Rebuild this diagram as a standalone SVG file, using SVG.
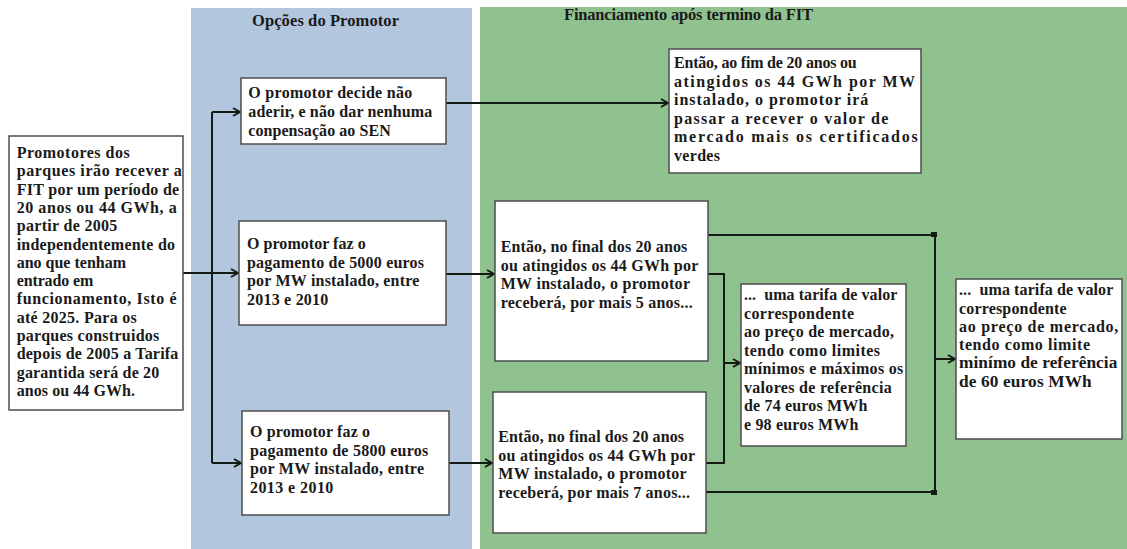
<svg xmlns="http://www.w3.org/2000/svg" width="1127" height="549" viewBox="0 0 1127 549">
<style>
.t{font-family:"Liberation Serif","Times New Roman",serif;font-weight:bold;font-size:16px;fill:#1a1a1a;white-space:pre}
.h{font-family:"Liberation Serif","Times New Roman",serif;font-weight:bold;font-size:16.5px;fill:#1a1a1a}
.big{font-size:17.3px}
.box{fill:#ffffff;stroke:#4d4d4d;stroke-width:1.5}
.ln{fill:none;stroke:#141a14;stroke-width:2}
</style>
<defs>
<marker id="ar" viewBox="0 0 10 10" refX="9" refY="5" markerWidth="10" markerHeight="10" markerUnits="userSpaceOnUse" orient="auto">
<path d="M2,1 L9,5 L2,9" fill="none" stroke="#141a14" stroke-width="2"/>
</marker>
</defs>
<rect x="0" y="0" width="1127" height="549" fill="#ffffff"/>
<g id="panel-promotor">
<rect x="191" y="8" width="281" height="541" fill="#b2c6dd"/>
<text class="h" x="252" y="26" textLength="147">Opções do Promotor</text>
</g>
<g id="panel-financiamento">
<rect x="480" y="7" width="647" height="542" fill="#8fc28e"/>
<text class="h" x="564" y="20" textLength="249">Financiamento após termino da FIT</text>
</g>
<g id="connectors">
<path class="ln" d="M183,273 H212"/>
<path class="ln" d="M212,112 V463"/>
<path class="ln" d="M212,112 H240" marker-end="url(#ar)"/>
<path class="ln" d="M212,273 H238" marker-end="url(#ar)"/>
<path class="ln" d="M212,463 H241" marker-end="url(#ar)"/>
<path class="ln" d="M446,103 H668" marker-end="url(#ar)"/>
<path class="ln" d="M446,274 H494" marker-end="url(#ar)"/>
<path class="ln" d="M449,463 H492" marker-end="url(#ar)"/>
<path class="ln" d="M708,274 H724 V463 H706"/>
<path class="ln" d="M724,363 H740" marker-end="url(#ar)"/>
<path class="ln" d="M708,235 H935 V492 H706"/>
<path class="ln" d="M935,359 H955" marker-end="url(#ar)"/>
<rect x="931" y="232" width="6" height="5" fill="#141a14"/>
<rect x="931" y="490" width="6" height="5" fill="#141a14"/>
</g>
<g id="node-inicio">
<rect class="box" x="9" y="136" width="174" height="274"/>
<text class="t" x="16.7" y="158" textLength="113">Promotores dos</text>
<text class="t" x="16.7" y="176.3" textLength="165">parques irão recever a</text>
<text class="t" x="16.7" y="194.6" textLength="162.5">FIT por um período de</text>
<text class="t" x="16.7" y="212.9" textLength="160">20 anos ou 44 GWh, a</text>
<text class="t" x="16.7" y="231.2" textLength="100.6">partir de 2005</text>
<text class="t" x="16.7" y="249.5" textLength="158.3">independentemente do</text>
<text class="t" x="16.7" y="267.8" textLength="109.3">ano que tenham</text>
<text class="t" x="16.7" y="286.1" textLength="76.6">entrado em</text>
<text class="t" x="16.7" y="304.4" textLength="160">funcionamento, Isto é</text>
<text class="t" x="16.7" y="322.7" textLength="120">até 2025. Para os</text>
<text class="t" x="16.7" y="341" textLength="142.6">parques construidos</text>
<text class="t" x="16.7" y="359.3" textLength="161.6">depois de 2005 a Tarifa</text>
<text class="t" x="16.7" y="377.6" textLength="142.6">garantida será de 20</text>
<text class="t" x="16.7" y="396" textLength="118.3">anos ou 44 GWh.</text>
</g>
<g id="node-nao-aderir">
<rect class="box" x="241" y="78" width="205" height="66"/>
<text class="t" x="248.3" y="98" textLength="164">O promotor decide não</text>
<text class="t" x="248.3" y="117" textLength="184">aderir, e não dar nenhuma</text>
<text class="t" x="248.3" y="136" textLength="142.4">conpensação ao SEN</text>
</g>
<g id="node-5000">
<rect class="box" x="239" y="221" width="207" height="104"/>
<text class="t" x="247" y="249" textLength="118.7">O promotor faz o</text>
<text class="t" x="247" y="267.5" textLength="177">pagamento de 5000 euros</text>
<text class="t" x="247" y="286" textLength="172.3">por MW instalado, entre</text>
<text class="t" x="247" y="304.5" textLength="81.3">2013 e 2010</text>
</g>
<g id="node-5800">
<rect class="box" x="242" y="411" width="207" height="104"/>
<text class="t" x="250" y="437" textLength="120">O promotor faz o</text>
<text class="t" x="250" y="455.5" textLength="178.3">pagamento de 5800 euros</text>
<text class="t" x="250" y="474" textLength="174">por MW instalado, entre</text>
<text class="t" x="250" y="492.5" textLength="83.3">2013 e 2010</text>
</g>
<g id="node-mercado-verdes">
<rect class="box" x="669" y="49" width="252" height="124"/>
<text class="t" x="674" y="68" textLength="182.7">Então, ao fim de 20 anos ou</text>
<text class="t" x="674" y="86.5" textLength="241">atingidos os 44 GWh por MW</text>
<text class="t" x="674" y="105" textLength="194.3">instalado, o promotor irá</text>
<text class="t" x="674" y="123.5" textLength="214.3">passar a recever o valor de</text>
<text class="t" x="674" y="142" textLength="243.7">mercado mais os certificados</text>
<text class="t" x="674" y="160.5" textLength="46">verdes</text>
</g>
<g id="node-5anos">
<rect class="box" x="495" y="201" width="213" height="160"/>
<text class="t" x="500.7" y="252" textLength="186.6">Então, no final dos 20 anos</text>
<text class="t" x="500.7" y="270.5" textLength="197.6">ou atingidos os 44 GWh por</text>
<text class="t" x="500.7" y="289" textLength="189.3">MW instalado, o promotor</text>
<text class="t" x="500.7" y="307.5" textLength="192">receberá, por mais 5 anos...</text>
</g>
<g id="node-7anos">
<rect class="box" x="493" y="392" width="213" height="141"/>
<text class="t" x="498.3" y="442" textLength="185.7">Então, no final dos 20 anos</text>
<text class="t" x="498.3" y="460.5" textLength="196.7">ou atingidos os 44 GWh por</text>
<text class="t" x="498.3" y="479" textLength="188.4">MW instalado, o promotor</text>
<text class="t" x="498.3" y="497.5" textLength="191.7">receberá, por mais 7 anos...</text>
</g>
<g id="node-tarifa-74-98">
<rect class="box" x="741" y="284" width="165" height="162"/>
<text class="t" x="744" y="300" textLength="153.3">...  uma tarifa de valor</text>
<text class="t" x="744" y="318.5" textLength="110">correspondente</text>
<text class="t" x="744" y="337" textLength="150">ao preço de mercado,</text>
<text class="t" x="744" y="355.5" textLength="136">tendo como limites</text>
<text class="t" x="744" y="374" textLength="159.3">mínimos e máximos os</text>
<text class="t" x="744" y="392.5" textLength="147.7">valores de referência</text>
<text class="t" x="744" y="411" textLength="123.3">de 74 euros MWh</text>
<text class="t" x="744" y="429.5" textLength="114.3">e 98 euros MWh</text>
</g>
<g id="node-tarifa-60">
<rect class="box" x="956" y="279" width="166" height="160"/>
<text class="t" x="959" y="295" textLength="154.3">...  uma tarifa de valor</text>
<text class="t" x="959" y="313.5" textLength="107.7">correspondente</text>
<text class="t" x="959" y="332" textLength="159.3">ao preço de mercado,</text>
<text class="t" x="959" y="350" textLength="131">tendo como limite</text>
<text class="t big" x="959" y="367.5" textLength="158.3">minímo de referência</text>
<text class="t big" x="959" y="386.5" textLength="132.7">de 60 euros MWh</text>
</g>
</svg>
